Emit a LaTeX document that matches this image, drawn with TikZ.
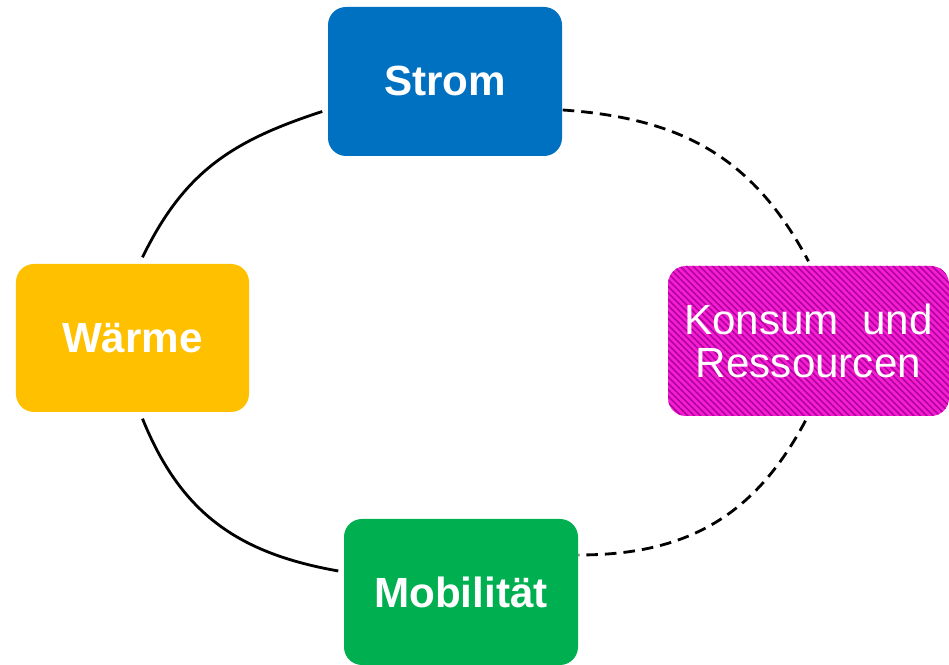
\documentclass[tikz,border=0pt]{standalone}
\usepackage{fontspec}
\setmainfont{Liberation Sans}
\usetikzlibrary{patterns.meta}
\definecolor{stromblau}{HTML}{0070C0}
\definecolor{waermegelb}{HTML}{FFC000}
\definecolor{mobilgruen}{HTML}{00B050}
\definecolor{konsumpink}{HTML}{F51ED2}
\definecolor{konsumlila}{HTML}{B0009E}

\begin{document}
\begin{tikzpicture}[
    sektor/.style={rectangle,rounded corners=0.18cm,text=white,
      font=\fontsize{12}{12.5}\selectfont\bfseries,inner sep=0pt},
    kreis/.style={line width=0.8pt,looseness=1.05},
    kreisoffen/.style={kreis,dash pattern=on 3.3pt off 2pt}]
  \useasboundingbox (0,0) rectangle (9.49,6.65);

  % sectors
  \node[sektor,fill=stromblau,minimum width=2.34cm,minimum height=1.49cm] (strom) at (4.45,5.835) {Strom};
  \node[sektor,fill=waermegelb,minimum width=2.33cm,minimum height=1.48cm] (waerme) at (1.325,3.27) {Wärme};
  \node[sektor,fill=mobilgruen,minimum width=2.34cm,minimum height=1.46cm] (mobil) at (4.61,0.73) {Mobilität};
  \node[sektor,fill=konsumpink,
    postaction={pattern={Lines[angle=-45,distance=1.3pt,line width=0.45pt]},pattern color=konsumlila},
    minimum width=2.81cm,minimum height=1.5cm,align=center,
    font=\fontsize{12}{12.3}\selectfont] (konsum) at (8.085,3.24) {Konsum\ \ und\\Ressourcen};

  % solid ring: Strom - Waerme - Mobilitaet
  \draw[kreis] ([xshift=-0.05cm,yshift=-0.3cm]strom.west) to[out=198,in=64] ([xshift=0.1cm,yshift=0.06cm]waerme.north);
  \draw[kreis] ([xshift=0.1cm,yshift=-0.06cm]waerme.south) to[out=-68,in=170] ([xshift=-0.05cm,yshift=0.21cm]mobil.west);

  % dashed ring: Strom - Konsum - Mobilitaet
  \draw[kreisoffen] ([yshift=-0.285cm]strom.east) to[out=-4,in=118] ([yshift=0.04cm]konsum.north);
  \draw[kreisoffen] ([xshift=-0.03cm,yshift=-0.04cm]konsum.south) to[out=-118,in=0] ([yshift=0.37cm]mobil.east);
\end{tikzpicture}
\end{document}
